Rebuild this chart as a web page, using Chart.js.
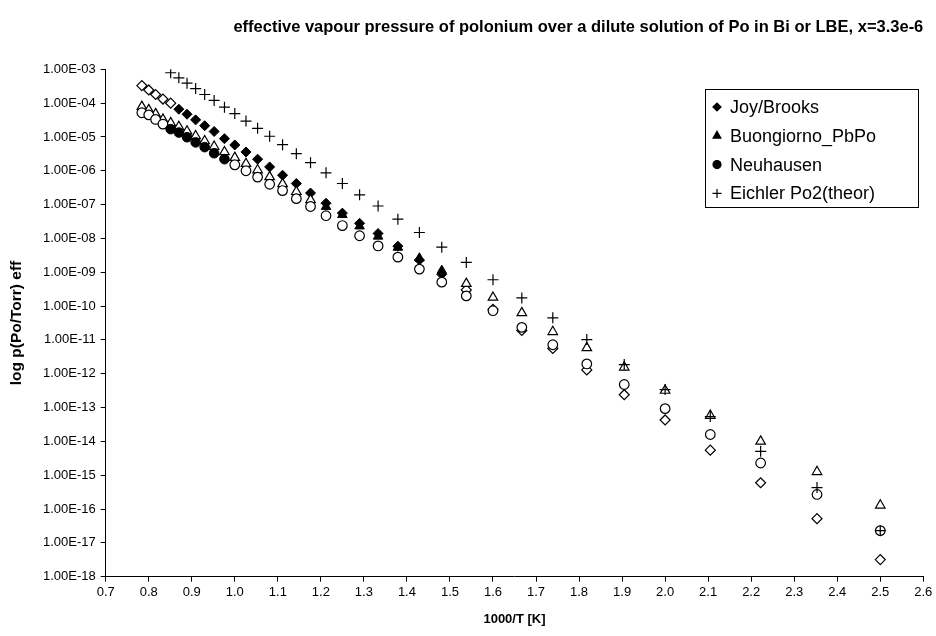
<!DOCTYPE html>
<html>
<head>
<meta charset="utf-8">
<script src="https://cdn.jsdelivr.net/npm/chart.js@4/dist/chart.umd.min.js"></script>
<style>
  html, body { margin: 0; padding: 0; background: #fff; }
  canvas { display: block; }
</style>
</head>
<body>
<canvas id="chart" width="936" height="636"></canvas>
<script>
const chartTitle = "effective vapour pressure of polonium over a dilute solution of Po in Bi or LBE, x=3.3e-6";
const xTitle = "1000/T [K]";
const yTitle = "log p(Po/Torr) eff";

// 1000/T values (T = 1275 K down to 400 K)
const invT = [0.784, 0.800, 0.816, 0.833, 0.851, 0.870, 0.889, 0.909, 0.930, 0.952,
  0.976, 1.000, 1.026, 1.053, 1.081, 1.111, 1.143, 1.176, 1.212, 1.250,
  1.290, 1.333, 1.379, 1.429, 1.481, 1.538, 1.600, 1.667, 1.739, 1.818,
  1.905, 2.000, 2.105, 2.222, 2.353, 2.500];

const joyBrooks = [3.3e-4, 2.45e-4, 1.8e-4, 1.32e-4, 1.0e-4, 6.6e-5, 4.7e-5, 3.2e-5, 2.15e-5, 1.45e-5,
  8.9e-6, 5.8e-6, 3.6e-6, 2.2e-6, 1.3e-6, 7.4e-7, 4.2e-7, 2.2e-7, 1.1e-7, 5.6e-8,
  2.8e-8, 1.4e-8, 5.9e-9, 2.3e-9, 8.7e-10, 3.0e-10, 8.0e-11, 1.9e-11, 5.6e-12, 1.3e-12,
  2.4e-13, 4.3e-14, 5.5e-15, 6.0e-16, 5.2e-17, 3.2e-18];

const buongiorno = [7.9e-5, 6.3e-5, 4.8e-5, 3.3e-5, 2.6e-5, 2.0e-5, 1.48e-5, 1.07e-5, 7.6e-6, 5.2e-6,
  3.6e-6, 2.45e-6, 1.62e-6, 1.05e-6, 6.6e-7, 4.1e-7, 2.4e-7, 1.38e-7, 8.7e-8, 5.0e-8,
  2.3e-8, 1.15e-8, 5.4e-9, 2.6e-9, 1.12e-9, 4.6e-10, 1.8e-10, 6.3e-11, 1.74e-11, 5.8e-12,
  1.55e-12, 3.2e-13, 5.8e-14, 1.0e-14, 1.26e-15, 1.29e-16];

const neuhausen = [5.2e-5, 4.5e-5, 3.3e-5, 2.4e-5, 1.7e-5, 1.35e-5, 9.8e-6, 6.9e-6, 5.0e-6, 3.3e-6,
  2.2e-6, 1.5e-6, 1.0e-6, 6.5e-7, 4.0e-7, 2.6e-7, 1.5e-7, 8.8e-8, 4.7e-8, 2.4e-8,
  1.2e-8, 6.0e-9, 2.8e-9, 1.24e-9, 5.1e-10, 2.0e-10, 7.3e-11, 2.35e-11, 7.2e-12, 1.95e-12,
  4.8e-13, 9.3e-14, 1.6e-14, 2.3e-15, 2.7e-16, 2.3e-17];

const eichler = [null, null, null, null, 7.9e-4, 5.6e-4, 3.9e-4, 2.7e-4, 1.8e-4, 1.2e-4,
  7.6e-5, 4.9e-5, 2.95e-5, 1.8e-5, 1.05e-5, 5.9e-6, 3.2e-6, 1.74e-6, 8.7e-7, 4.2e-7,
  1.95e-7, 9.1e-8, 3.7e-8, 1.5e-8, 5.5e-9, 1.95e-9, 6.0e-10, 1.74e-10, 4.5e-11, 1.02e-11,
  1.86e-12, 3.4e-13, 5.4e-14, 5.1e-15, 4.3e-16, 2.3e-17];

// range of 1000/T where each series is drawn with filled markers
const joyFilled = [0.86, 1.50];
const buongiornoFilled = [1.20, 1.50];
const neuhausenFilled = [0.84, 0.98];

const yTicks = [1e-3, 1e-4, 1e-5, 1e-6, 1e-7, 1e-8, 1e-9, 1e-10, 1e-11, 1e-12,
  1e-13, 1e-14, 1e-15, 1e-16, 1e-17, 1e-18];

function points(ys, range, inside) {
  const out = [];
  ys.forEach((y, i) => {
    if (y === null) return;
    const x = invT[i];
    const isIn = range ? (x >= range[0] && x <= range[1]) : true;
    if (isIn === inside) out.push({ x: x, y: y });
  });
  return out;
}

function series(label, ys, range, style, radius, order) {
  return [
    {
      label: label,
      data: points(ys, range, true),
      pointStyle: style,
      pointRadius: radius,
      pointBackgroundColor: "#000",
      pointBorderColor: "#000",
      pointBorderWidth: 1,
      order: order
    },
    {
      label: label + " (open)",
      data: points(ys, range, false),
      pointStyle: style,
      pointRadius: radius,
      pointBackgroundColor: "#fff",
      pointBorderColor: "#000",
      pointBorderWidth: 1.2,
      order: order
    }
  ];
}

const datasets = [
  ...series("Joy/Brooks", joyBrooks, joyFilled, "rectRot", 5, 4),
  ...series("Buongiorno_PbPo", buongiorno, buongiornoFilled, "triangle", 5.5, 3),
  ...series("Neuhausen", neuhausen, neuhausenFilled, "circle", 4.8, 2),
  {
    label: "Eichler Po2(theor)",
    data: points(eichler, null, true),
    pointStyle: "cross",
    pointRadius: 5.5,
    pointBorderColor: "#000",
    pointBorderWidth: 1.2,
    order: 1
  }
];

function sciLabel(v) {
  const e = Math.round(Math.log10(v));
  const sign = e < 0 ? "-" : "+";
  return "1.00E" + sign + String(Math.abs(e)).padStart(2, "0");
}

// legend drawn inside the plot area, like the original
const legendEntries = [
  { text: "Joy/Brooks", style: "rectRot", r: 4, fill: true },
  { text: "Buongiorno_PbPo", style: "triangle", r: 4.5, fill: true },
  { text: "Neuhausen", style: "circle", r: 4, fill: true },
  { text: "Eichler Po2(theor)", style: "cross", r: 4.5, fill: false }
];

const boxLegend = {
  id: "boxLegend",
  afterDraw(chart) {
    const ctx = chart.ctx;
    const left = 705, top = 89, w = 213, h = 118;
    ctx.save();
    ctx.fillStyle = "#fff";
    ctx.fillRect(left, top, w, h);
    ctx.strokeStyle = "#000";
    ctx.lineWidth = 1;
    ctx.strokeRect(left + 0.5, top + 0.5, w, h);
    ctx.font = "18px 'Liberation Sans', Arial, sans-serif";
    ctx.textBaseline = "middle";
    legendEntries.forEach((item, i) => {
      const y = top + 18 + i * 28.8;
      ctx.fillStyle = "#000";
      ctx.strokeStyle = "#000";
      ctx.lineWidth = 1.2;
      Chart.helpers.drawPoint(ctx, { pointStyle: item.style, radius: item.r, borderWidth: 1.2 }, left + 12, y);
      ctx.fillStyle = "#000";
      ctx.fillText(item.text, left + 25, y + 1);
    });
    ctx.restore();
  }
};

new Chart(document.getElementById("chart"), {
  type: "scatter",
  data: { datasets: datasets },
  plugins: [boxLegend],
  options: {
    responsive: false,
    animation: false,
    devicePixelRatio: 1,
    layout: { padding: { left: 0, right: 12.7, top: 0, bottom: 0 } },
    plugins: {
      legend: { display: false },
      tooltip: { enabled: false },
      title: {
        display: true,
        text: chartTitle,
        align: "end",
        color: "#000",
        font: { family: "'Liberation Sans', Arial, sans-serif", size: 16.5, weight: "bold" },
        padding: { top: 17.5, bottom: 32 }
      }
    },
    scales: {
      x: {
        type: "linear",
        min: 0.7,
        max: 2.6,
        afterFit: (s) => { s.height = 59.3; },
        ticks: {
          stepSize: 0.1,
          color: "#000",
          padding: 3,
          font: { family: "'Liberation Sans', Arial, sans-serif", size: 13 }
        },
        grid: { drawOnChartArea: false, color: "#000", tickLength: 5 },
        border: { color: "#000" },
        title: {
          display: true,
          text: xTitle,
          color: "#000",
          font: { family: "'Liberation Sans', Arial, sans-serif", size: 13, weight: "bold" },
          padding: { top: 0, bottom: 9 }
        }
      },
      y: {
        type: "logarithmic",
        min: 1e-18,
        max: 1e-3,
        afterFit: (s) => { s.width = 105.7; },
        afterBuildTicks: (s) => { s.ticks = yTicks.map(v => ({ value: v })); },
        ticks: {
          color: "#000",
          padding: 5,
          autoSkip: false,
          callback: (v) => sciLabel(v),
          font: { family: "'Liberation Sans', Arial, sans-serif", size: 13 }
        },
        grid: { drawOnChartArea: false, color: "#000", tickLength: 5 },
        border: { color: "#000" },
        title: {
          display: true,
          text: yTitle,
          color: "#000",
          font: { family: "'Liberation Sans', Arial, sans-serif", size: 15.5, weight: "bold" },
          padding: { top: 7, bottom: 0 }
        }
      }
    }
  }
});
</script>
</body>
</html>
